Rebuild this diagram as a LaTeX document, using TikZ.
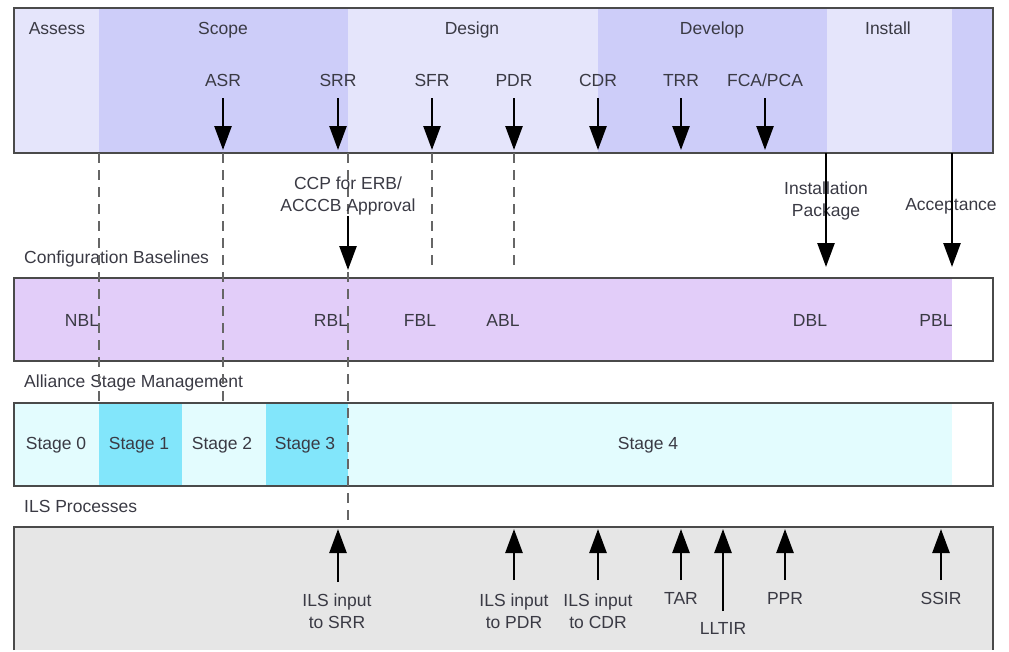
\documentclass[tikz,border=0pt]{standalone}
\usepackage{fontspec}
\setmainfont{Liberation Sans}
\usetikzlibrary{arrows.meta}
\definecolor{phaseL}{HTML}{E5E5FB}
\definecolor{phaseD}{HTML}{CDCDF9}
\definecolor{cfg}{HTML}{E2CDF9}
\definecolor{stgL}{HTML}{E3FCFE}
\definecolor{stgD}{HTML}{82E6FB}
\definecolor{ilsfill}{HTML}{E6E6E6}
\definecolor{txt}{HTML}{3A3A44}
\definecolor{frame}{HTML}{4A4A4A}
\begin{document}
\begin{tikzpicture}[x=1pt,y=-1pt,
  lbl/.style={font=\fontsize{17.5}{22.5}\selectfont, text=txt, inner sep=0pt, text height=12.5pt, text depth=0pt},
  lbltwo/.style={font=\fontsize{17.5}{22.5}\selectfont, text=txt, inner sep=0pt, align=center},
  lblleft/.style={lbl, anchor=west},
  arr/.style={line width=2.6pt, draw=black, -{Triangle[width=17pt,length=24pt]}},
  guide/.style={line width=1.3pt, draw=black!60, dash pattern=on 10pt off 7pt},
  boxline/.style={draw=frame, line width=1.8pt}]
\useasboundingbox (0,0) rectangle (1009,651);

% ---------- phase band ----------
\fill[phaseL] (14,8) rectangle (99,153);
\fill[phaseD] (99,8) rectangle (348,153);
\fill[phaseL] (348,8) rectangle (598,153);
\fill[phaseD] (598,8) rectangle (827,153);
\fill[phaseL] (827,8) rectangle (952,153);
\fill[phaseD] (952,8) rectangle (993,153);
\draw[boxline] (14,8) rectangle (993,153);

\node[lbl] (assess) at (57,28) {Assess};
\node[lbl] (scope) at (223,28) {Scope};
\node[lbl] (design) at (472,28) {Design};
\node[lbl] (develop) at (712,28) {Develop};
\node[lbl] (install) at (888,28) {Install};

\node[lbl] (asr) at (223,80) {ASR};
\node[lbl] (srr) at (338,80) {SRR};
\node[lbl] (sfr) at (432,80) {SFR};
\node[lbl] (pdr) at (514,80) {PDR};
\node[lbl] (cdr) at (598,80) {CDR};
\node[lbl] (trr) at (681,80) {TRR};
\node[lbl] (fca) at (765,80) {FCA/PCA};

\coordinate (asrA) at (223,98);  \coordinate (asrB) at (223,150);
\coordinate (srrA) at (338,98);  \coordinate (srrB) at (338,150);
\coordinate (sfrA) at (432,98);  \coordinate (sfrB) at (432,150);
\coordinate (pdrA) at (514,98);  \coordinate (pdrB) at (514,150);
\coordinate (cdrA) at (598,98);  \coordinate (cdrB) at (598,150);
\coordinate (trrA) at (681,98);  \coordinate (trrB) at (681,150);
\coordinate (fcaA) at (765,98);  \coordinate (fcaB) at (765,150);
\foreach \m in {asr,srr,sfr,pdr,cdr,trr,fca}
  \draw[arr] (\m A) -- (\m B);

% ---------- configuration baselines ----------
\node[lblleft] (cfglabel) at (24,257) {Configuration Baselines};
\fill[cfg] (14,278) rectangle (952,361);
\draw[draw=frame, line width=1.5pt] (14,278) rectangle (993,361);
\node[lbl] (nbl) at (82,320) {NBL};
\node[lbl] (rbl) at (331,320) {RBL};
\node[lbl] (fbl) at (420,320) {FBL};
\node[lbl] (abl) at (503,320) {ABL};
\node[lbl] (dbl) at (810,320) {DBL};
\node[lbl] (pbl) at (936,320) {PBL};

% ---------- stage management ----------
\node[lblleft] (stglabel) at (24,381) {Alliance Stage Management};
\fill[stgL] (14,403) rectangle (99,486);
\fill[stgD] (99,403) rectangle (182,486);
\fill[stgL] (182,403) rectangle (266,486);
\fill[stgD] (266,403) rectangle (348,486);
\fill[stgL] (348,403) rectangle (952,486);
\draw[draw=frame, line width=1.5pt] (14,403) rectangle (993,486);
\node[lbl] (s0) at (56,443) {Stage 0};
\node[lbl] (s1) at (139,443) {Stage 1};
\node[lbl] (s2) at (222,443) {Stage 2};
\node[lbl] (s3) at (305,443) {Stage 3};
\node[lbl] (s4) at (648,443) {Stage 4};

% ---------- ILS processes ----------
\node[lblleft] (ilslabel) at (24,506) {ILS Processes};
\fill[ilsfill] (14,527) rectangle (993,650);
\draw[boxline] (14,650) -- (14,527) -- (993,527) -- (993,650);

% ---------- dashed guide lines ----------
\coordinate (g1a) at (99,153);  \coordinate (g1b) at (99,403);
\coordinate (g2a) at (223,153); \coordinate (g2b) at (223,403);
\coordinate (g3a) at (348,153); \coordinate (g3b) at (348,527);
\coordinate (g4a) at (432,153); \coordinate (g4b) at (432,272);
\coordinate (g5a) at (514,153); \coordinate (g5b) at (514,272);
\foreach \g in {g1,g2,g3,g4,g5}
  \draw[guide] (\g a) -- (\g b);

% ---------- hand-over arrows ----------
\node[lbltwo] (ccp) at (348,196) {CCP for ERB/\\ACCCB Approval};
\coordinate (ccpA) at (348,216); \coordinate (ccpB) at (348,270);
\draw[arr] (ccpA) -- (ccpB);

\node[lbltwo] (inst) at (826,201) {Installation\\Package};
\coordinate (instA) at (826,153); \coordinate (instB) at (826,267);
\draw[arr] (instA) -- (instB);

\node[lbl] (acc) at (951,204) {Acceptance};
\coordinate (accA) at (952,153); \coordinate (accB) at (952,267);
\draw[arr] (accA) -- (accB);

% ---------- ILS inputs ----------
\node[lbltwo] (isrr) at (337,611) {ILS input\\to SRR};
\node[lbltwo] (ipdr) at (514,611) {ILS input\\to PDR};
\node[lbltwo] (icdr) at (598,611) {ILS input\\to CDR};
\node[lbl] (tar) at (681,598) {TAR};
\node[lbl] (lltir) at (723,628) {LLTIR};
\node[lbl] (ppr) at (785,598) {PPR};
\node[lbl] (ssir) at (941,598) {SSIR};

\coordinate (isrrA) at (338,582); \coordinate (isrrB) at (338,529);
\coordinate (ipdrA) at (514,580); \coordinate (ipdrB) at (514,529);
\coordinate (icdrA) at (598,580); \coordinate (icdrB) at (598,529);
\coordinate (tarA) at (681,580);  \coordinate (tarB) at (681,529);
\coordinate (lltirA) at (723,611); \coordinate (lltirB) at (723,529);
\coordinate (pprA) at (785,580);  \coordinate (pprB) at (785,529);
\coordinate (ssirA) at (941,580); \coordinate (ssirB) at (941,529);
\foreach \m in {isrr,ipdr,icdr,tar,lltir,ppr,ssir}
  \draw[arr] (\m A) -- (\m B);
\end{tikzpicture}
\end{document}
